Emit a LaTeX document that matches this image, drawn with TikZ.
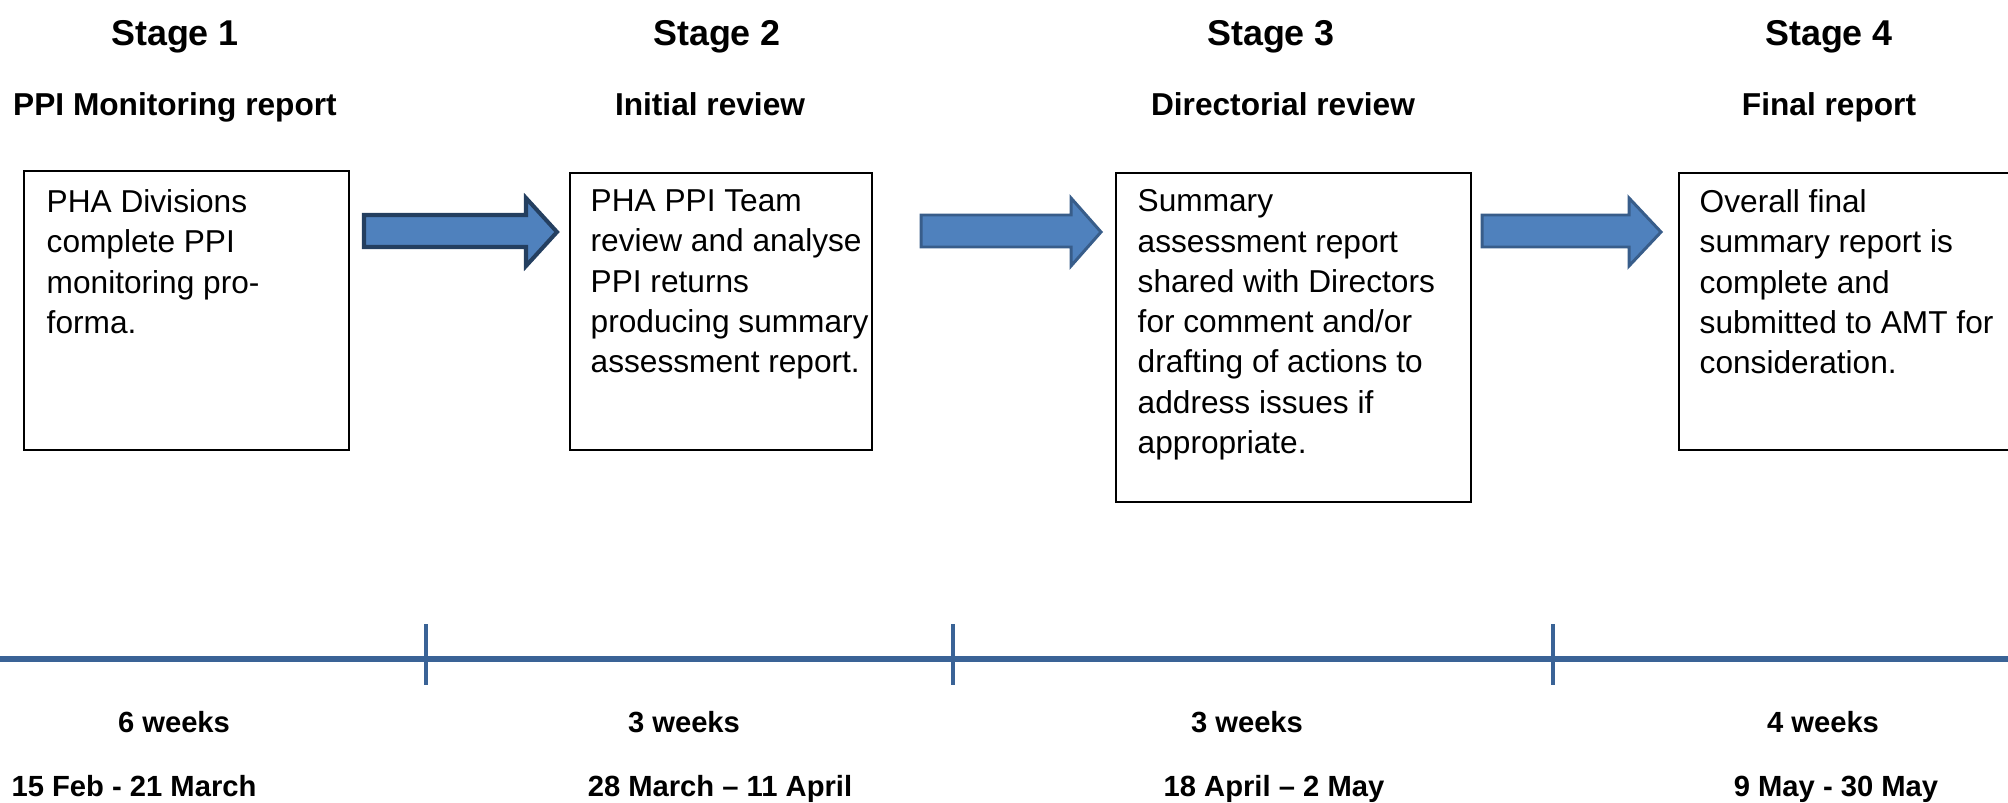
\documentclass[tikz,border=0pt]{standalone}
\usepackage{fontspec}
\setmainfont{Liberation Sans}
\definecolor{arrowfill}{HTML}{4F81BD}
\definecolor{arrowline}{HTML}{385D8A}
\definecolor{arrowdark}{HTML}{243F60}
\definecolor{axisblue}{HTML}{3A6396}

% block arrow: #1 style, #2 tail x, #3 head base x, #4 tip x
\newcommand\blockarrow[4]{%
  \draw[#1] (#2,215) -- (#3,215) -- (#3,198) -- (#4,232) -- (#3,266)
    -- (#3,247) -- (#2,247) -- cycle;}

\tikzset{
  stagehead/.style={inner sep=0pt, anchor=base, font=\bfseries\fontsize{10.2pt}{12pt}\selectfont},
  stagesub/.style={inner sep=0pt, anchor=base, font=\bfseries\fontsize{9pt}{11pt}\selectfont},
  timetext/.style={inner sep=0pt, anchor=base, font=\bfseries\fontsize{8.3pt}{10pt}\selectfont},
  stagebox/.style={draw=black, line width=0.6pt, anchor=north west, inner sep=0pt},
  boxtext/.style={inner sep=0pt, anchor=north west, align=left,
    font=\fontsize{9pt}{11.45pt}\selectfont},
  flowarrow/.style={fill=arrowfill, draw=arrowline, line width=0.85pt, line join=miter},
  firstarrow/.style={fill=arrowfill, draw=arrowdark, line width=1.15pt, line join=miter},
  axis/.style={draw=axisblue, line width=1.7pt},
  tick/.style={draw=axisblue, line width=1.3pt}
}

\begin{document}
\begin{tikzpicture}[x=0.01cm, y=-0.01cm]
\clip (0,0) rectangle (2008,803);

% stage headings
\node[stagehead] (h1) at (175,45) {Stage 1};
\node[stagehead] (h2) at (717,45) {Stage 2};
\node[stagehead] (h3) at (1271,45) {Stage 3};
\node[stagehead] (h4) at (1829,45) {Stage 4};

\node[stagesub] (s1) at (175,116) {PPI Monitoring report};
\node[stagesub] (s2) at (710,116) {Initial review};
\node[stagesub] (s3) at (1283,116) {Directorial review};
\node[stagesub] (s4) at (1829,116) {Final report};

% stage boxes
\node[stagebox, minimum width=3.25cm, minimum height=2.79cm] (b1) at (23,170) {};
\node[stagebox, minimum width=3.02cm, minimum height=2.77cm] (b2) at (569,172) {};
\node[stagebox, minimum width=3.55cm, minimum height=3.29cm] (b3) at (1115,172) {};
\node[stagebox, minimum width=3.45cm, minimum height=2.77cm] (b4) at (1678,172) {};

\node[boxtext] (t1) at (46,189) {PHA Divisions\\complete PPI\\monitoring pro-\\forma.};
\node[boxtext] (t2) at (590,189) {PHA PPI Team\\review and analyse\\PPI returns\\producing summary\\assessment report.};
\node[boxtext] (t3) at (1137,189) {Summary\\assessment report\\shared with Directors\\for comment and/or\\drafting of actions to\\address issues if\\appropriate.};
\node[boxtext] (t4) at (1699,189) {Overall final\\summary report is\\complete and\\submitted to AMT for\\consideration.};

% arrows between the stages
\blockarrow{firstarrow}{364}{526}{557}
\blockarrow{flowarrow}{921}{1071}{1101}
\blockarrow{flowarrow}{1482}{1629}{1661}

% timeline
\coordinate (la) at (0,659);
\coordinate (lb) at (2008,659);
\draw[axis] (la) -- (lb);
\coordinate (k1a) at (426,624); \coordinate (k1b) at (426,685);
\coordinate (k2a) at (953,624); \coordinate (k2b) at (953,685);
\coordinate (k3a) at (1553,624); \coordinate (k3b) at (1553,685);
\draw[tick] (k1a) -- (k1b);
\draw[tick] (k2a) -- (k2b);
\draw[tick] (k3a) -- (k3b);

\node[timetext] (w1) at (174,732) {6 weeks};
\node[timetext] (w2) at (684,732) {3 weeks};
\node[timetext] (w3) at (1247,732) {3 weeks};
\node[timetext] (w4) at (1823,732) {4 weeks};

\node[timetext] (d1) at (134,796) {15 Feb - 21 March};
\node[timetext] (d2) at (720,796) {28 March – 11 April};
\node[timetext] (d3) at (1274,796) {18 April – 2 May};
\node[timetext] (d4) at (1836,796) {9 May - 30 May};
\end{tikzpicture}
\end{document}
